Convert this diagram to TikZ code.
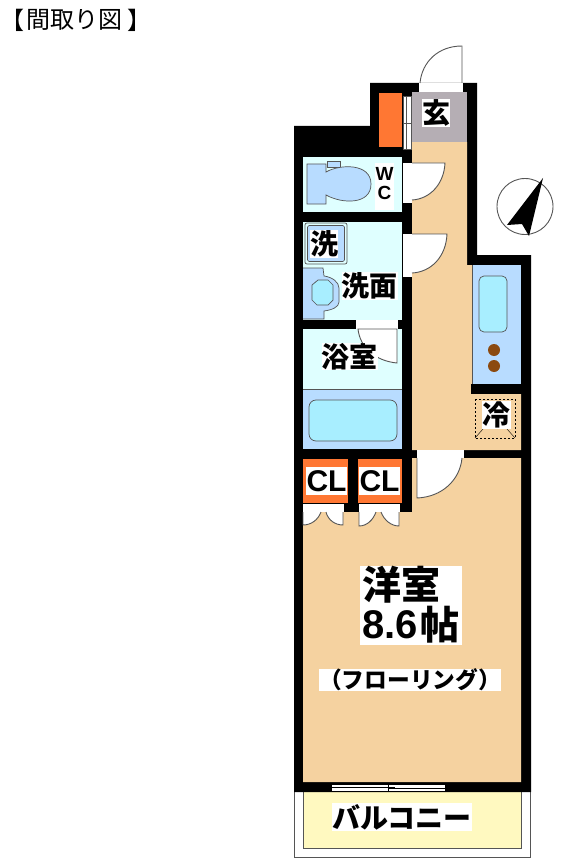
\documentclass[tikz,border=0pt]{standalone}
\usepackage{fontspec}
\setmainfont{Noto Sans CJK JP}
\newfontfamily\latn{Liberation Sans}
\definecolor{tan}{HTML}{F5D2A0}
\definecolor{genkan}{HTML}{B5AEB4}
\definecolor{closet}{HTML}{FF7733}
\definecolor{wet}{HTML}{DFFFFF}
\definecolor{fixture}{HTML}{B8DCFF}
\definecolor{basin}{HTML}{A8EEFF}
\definecolor{balc}{HTML}{FFF9C0}
\definecolor{burner}{HTML}{8B4A10}
\definecolor{edge}{HTML}{555555}
\tikzset{
  roomfill/.style={fill=#1,draw=none},
  fixt/.style={fill=#1,draw=edge,line width=.7pt},
  doorleaf/.style={fill=white,draw=edge,line width=.9pt},
  gapfill/.style={fill=white,draw=none},
  lbl/.style={fill=white,inner sep=0pt,font=\fontsize{#1}{#1}\selectfont\bfseries,text=black},
  lbl/.default=28,
  latinlbl/.style={inner sep=0pt,text=black,font=\latn\bfseries\fontsize{#1}{#1}\selectfont},
}
\begin{document}
\begin{tikzpicture}[x=1pt,y=-1pt]
\useasboundingbox (0,0) rectangle (562,861);
\fill[white] (0,0) rectangle (562,861);
% title
\node[font=\fontsize{24}{24}\selectfont,inner sep=0pt] (titlea) at (12,20) {【};
\node[font=\fontsize{24}{24}\selectfont,inner sep=0pt] (title) at (74.5,20) {間取り図};
\node[font=\fontsize{24}{24}\selectfont,inner sep=0pt] (titleb) at (139,20) {】};
% balcony
\draw[fill=white,draw=edge,line width=.8pt] (294.5,790) rectangle (530.5,857.5);
\draw[fill=balc,draw=edge,line width=.8pt] (303,790) rectangle (521,848);
% building shell
\fill[black] (370,83) -- (477,83) -- (477,255) -- (531,255) -- (531,792) -- (294,792) -- (294,126) -- (370,126) -- cycle;
% corridor and rooms
\fill[roomfill=tan] (412,142) -- (467,142) -- (467,265) -- (472,265) -- (472,394) -- (521,394) -- (521,450) -- (412,450) -- cycle;
\fill[roomfill=genkan] (412,92) rectangle (467,142);
\fill[roomfill=closet] (379,93) rectangle (402,147);
\fill[roomfill=wet] (303,157) rectangle (402,212);
\fill[roomfill=wet] (303,222) rectangle (402,320);
\fill[roomfill=wet] (303,329) rectangle (402,389);
\fill[roomfill=fixture] (303,389) rectangle (402,449);
\draw[edge,line width=.5pt] (303,389) -- (402,389);
\fill[roomfill=fixture] (473,265) rectangle (521,384);
\fill[roomfill=tan] (303,512) -- (412,512) -- (412,458) -- (521,458) -- (521,782) -- (303,782) -- cycle;
\fill[roomfill=closet] (303,459) rectangle (348,503);
\fill[roomfill=closet] (358,459) rectangle (402,503);
% sliding closet door by the entrance
\draw[gapfill,draw=edge,line width=.5pt] (403,96) rectangle (411,149);
\draw[edge,line width=.6pt] (406.5,96) -- (406.5,149) (403,123) -- (411,123);
% wall openings
\fill[gapfill] (419,83.5) rectangle (463,92);
\fill[gapfill] (403,163) rectangle (412,203);
\fill[gapfill] (403,234) rectangle (412,277);
\fill[gapfill] (356,320) rectangle (398,329);
\fill[gapfill] (417,450) rectangle (464,458);
\fill[gapfill] (303,504) rectangle (344,512);
\fill[gapfill] (359,504) rectangle (400,512);
% doors
\draw[doorleaf,fill=none] (462,83) -- (462,46) .. controls (438,46) and (422,62) .. (420,83);
\draw[doorleaf] (412,163) -- (445,163) .. controls (444,184) and (430,199) .. (412,200);
\draw[doorleaf] (412,234) -- (447,234) .. controls (446,257) and (431,272) .. (412,273);
\draw[doorleaf] (397,329) -- (397,363) .. controls (376,361) and (360,348) .. (358,329) -- cycle;
\draw[doorleaf] (417,458) -- (417,498) .. controls (442,497) and (460,480) .. (462,458);
\draw[doorleaf] (303,512) -- (303,525) .. controls (311,525) and (318,520) .. (321,512);
\draw[doorleaf] (343,512) -- (343,525) .. controls (335,525) and (328,520) .. (326,512);
\draw[doorleaf] (359,512) -- (359,526) .. controls (367,526) and (373,520) .. (376,512);
\draw[doorleaf] (399,512) -- (399,526) .. controls (391,526) and (384,520) .. (381,512);
% balcony window
\fill[gapfill] (332,783.5) rectangle (445,792);
\draw[black,line width=.5pt] (332,784) -- (445,784) (332,791.5) -- (445,791.5);
\draw[black,line width=.5pt] (332,787) -- (395,787) (388,788) -- (445,788) (388,784) -- (388,792);
% toilet
\draw[fixt=fixture] (327,161) rectangle (340,167.5);
\draw[fixt=fixture] (307,164) -- (326,164) -- (326,172) .. controls (340,164) and (371,163) .. (371,184) .. controls (371,205) and (342,204) .. (326,195) -- (326,204) -- (307,204) -- cycle;
% washing machine pan
\draw[fill=wet,draw=edge,line width=.7pt,rounded corners=2pt] (305,223) rectangle (347,264);
\draw[fill=fixture,draw=edge,line width=.6pt,rounded corners=1.5pt] (307.5,225.5) rectangle (344.5,261.5);
% wash basin
\draw[fixt=fixture] (303,268) -- (323,268) -- (324,276) .. controls (332,277) and (339,282) .. (339,288) -- (339,302) .. controls (339,307) and (332,310) .. (324,311) -- (324,319) -- (303,319);
\draw[fixt=basin] (318,280) -- (328,280) -- (333,285) -- (333,300) -- (328,305) -- (317,305) -- (312,300) -- (312,285) -- cycle;
% bath tub
\draw[fixt=basin,rounded corners=7pt] (309,400) rectangle (397,441);
% kitchen
\draw[fixt=basin,rounded corners=5pt] (479,276) rectangle (507,332);
\fill[burner] (494,350) circle (6);
\fill[burner] (494,366) circle (6);
\fill[black] (471,384) rectangle (521,394);
\draw[edge,line width=.5pt] (472.5,265) -- (472.5,384);
% fridge
\draw[black,line width=.9pt,dash pattern=on 2pt off 2pt] (475,399) rectangle (515,438);
\draw[black,line width=.4pt] (475,438) -- (483,429) (515,438) -- (507,429);
% compass
\draw[edge,fill=white,line width=.9pt] (525,206.5) circle (28);
\fill[black] (543,178) -- (507,225) -- (522,224) -- (529,236) -- cycle;
% labels
\node[lbl,minimum width=28,minimum height=28] (genkanlbl) at (436,113) {玄};
\fill[white] (375,163) rectangle (394,210);
\node[latinlbl=19] (wlbl) at (384.5,174) {W};
\node[latinlbl=19] (clbl) at (384.5,193) {C};
\node[lbl,minimum width=28,minimum height=28] (washlbl) at (324,244) {洗};
\node[lbl,minimum width=55,minimum height=28] (menlbl) at (369.5,286) {洗面};
\node[lbl,minimum width=55,minimum height=27] (bathlbl) at (349.5,356.5) {浴室};
\node[lbl,minimum width=29,minimum height=28] (reilbl) at (496.5,415) {冷};
\node[latinlbl=30,fill=white,minimum width=41,minimum height=28] (cla) at (326.5,481) {CL};
\node[latinlbl=30,fill=white,minimum width=41,minimum height=28] (clb) at (379.5,481) {CL};
\fill[white] (360,566) rectangle (462,645);
\node[inner sep=0pt,anchor=west,font=\fontsize{39}{39}\selectfont\bfseries] (youlbl) at (362,585) {洋室};
\node[latinlbl=40,anchor=west] (sizelbl) at (362,625) {8.6};
\node[inner sep=0pt,anchor=west,font=\fontsize{39}{39}\selectfont\bfseries] (jolbl) at (420,625) {帖};
\node[lbl=22.7,minimum width=182,minimum height=22] (floorlbl) at (410,680) {（フローリング）};
\node[lbl=28,minimum width=140,minimum height=28] (balclbl) at (402,817) {バルコニー};
\end{tikzpicture}
\end{document}
